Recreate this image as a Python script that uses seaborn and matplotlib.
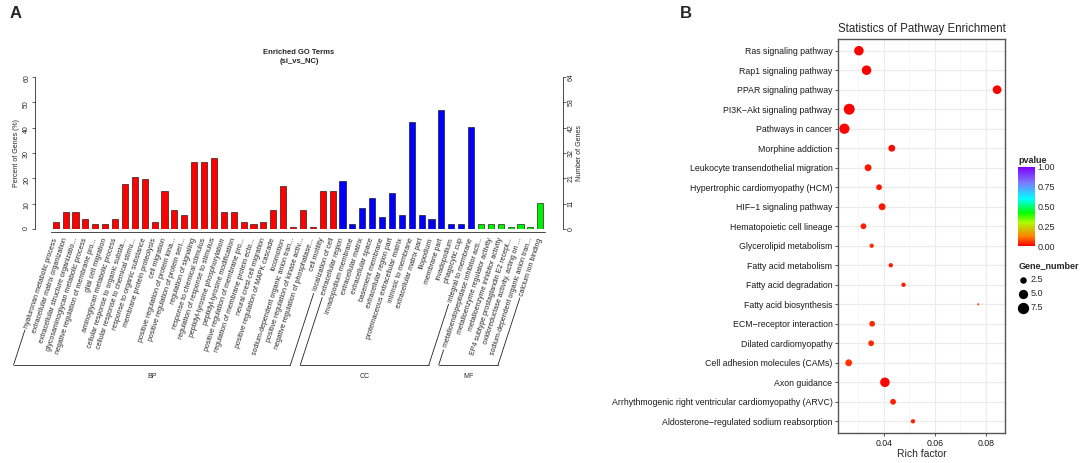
import numpy as np
import pandas as pd
import matplotlib
matplotlib.use("Agg")
import matplotlib.pyplot as plt
from matplotlib.colors import LinearSegmentedColormap, Normalize
from matplotlib.lines import Line2D
import seaborn as sns

# ---- panel A: GO terms ----
bp_terms = ["hyaluronan metabolic process", "extracellular matrix organization",
            "extracellular structure organizatio...", "glycosaminoglycan metabolic process",
            "negative regulation of membrane pro...", "glial cell migration",
            "aminoglycan metabolic process", "cellular response to organic substa...",
            "cellular response to chemical stimu...", "response to organic substance",
            "membrane protein proteolysis", "cell migration",
            "positive regulation of protein kina...", "positive regulation of protein seri...",
            "regulation of signaling", "response to chemical stimulus",
            "regulation of response to stimulus", "peptidyl-tyrosine phosphorylation",
            "peptidyl-tyrosine modification", "positive regulation of membrane pro...",
            "regulation of membrane protein ecto...", "neural crest cell migration",
            "positive regulation of MAPK cascade", "locomotion",
            "sodium-dependent organic anion tran...", "positive regulation of kinase activ...",
            "negative regulation of phosphatase...", "cell motility", "localization of cell"]
bp_pct = [2.8, 6.6, 6.6, 3.8, 1.9, 1.9, 3.8, 17.8, 20.6, 19.7, 2.8, 15.0, 7.5, 5.6, 26.3,
          26.3, 28.1, 6.6, 6.6, 2.8, 1.9, 2.8, 7.5, 16.9, 0.9, 7.5, 0.9, 15.0, 15.0]

cc_terms = ["extracellular region", "invadopodium membrane", "extracellular matrix",
            "extracellular space", "basement membrane", "extracellular region part",
            "proteinaceous extracellular matrix", "intrinsic to membrane",
            "extracellular matrix part", "filopodium", "membrane part", "invadopodium",
            "phagocytic cup", "integral to membrane"]
cc_pct = [18.8, 1.9, 8.4, 12.2, 4.7, 14.1, 5.6, 42.2, 5.6, 3.8, 46.9, 1.9, 1.9, 40.3]

mf_terms = ["metalloendopeptidase inhibitor acti...", "metalloenzyme regulator activity",
            "metalloenzyme inhibitor activity", "EP4 subtype prostaglandin E2 recept...",
            "oxidoreductase activity, acting on ...", "sodium-dependent organic anion tran...",
            "calcium ion binding"]
mf_pct = [1.9, 1.9, 1.9, 0.9, 1.9, 0.9, 10.3]

gene_ticks = ["0", "11", "21", "32", "42", "53", "64"]

# ---- panel B: KEGG ----
pathways = ["Ras signaling pathway", "Rap1 signaling pathway", "PPAR signaling pathway",
            "PI3K\u2212Akt signaling pathway", "Pathways in cancer", "Morphine addiction",
            "Leukocyte transendothelial migration", "Hypertrophic cardiomyopathy (HCM)",
            "HIF\u22121 signaling pathway", "Hematopoietic cell lineage",
            "Glycerolipid metabolism", "Fatty acid metabolism", "Fatty acid degradation",
            "Fatty acid biosynthesis", "ECM\u2212receptor interaction",
            "Dilated cardiomyopathy", "Cell adhesion molecules (CAMs)", "Axon guidance",
            "Arrhythmogenic right ventricular cardiomyopathy (ARVC)",
            "Aldosterone\u2212regulated sodium reabsorption"]
rich_factor = [0.0302, 0.0332, 0.0844, 0.0264, 0.0245, 0.0431, 0.0338, 0.0381, 0.0393,
               0.0320, 0.0352, 0.0427, 0.0477, 0.0770, 0.0354, 0.0350, 0.0262, 0.0404,
               0.0436, 0.0514]
gene_number = [7, 7, 6, 9, 8, 4, 4, 3, 4, 3, 2, 2, 2, 1, 3, 3, 4, 7, 3, 2]
pvalue = [0.002, 0.001, 0.001, 0.003, 0.006, 0.01, 0.02, 0.02, 0.02, 0.03,
          0.045, 0.03, 0.025, 0.06, 0.04, 0.04, 0.05, 0.005, 0.03, 0.035]

W, H = 1084, 463
sns.set_theme(style="white")
plt.rcParams["font.family"] = ["Liberation Sans", "DejaVu Sans"]

fig = plt.figure(figsize=(W / 100, H / 100), dpi=100)

terms = bp_terms + cc_terms + mf_terms
go = pd.DataFrame({
    "idx": range(len(terms)),
    "pct": bp_pct + cc_pct + mf_pct,
    "ont": ["BP"] * len(bp_terms) + ["CC"] * len(cc_terms) + ["MF"] * len(mf_terms),
})

axA = fig.add_axes([35 / W, 1 - 229 / H, (563 - 35) / W, (229 - 77) / H])
sns.barplot(data=go, x="idx", y="pct", hue="ont", dodge=False, width=0.62,
            palette={"BP": "#ff0000", "CC": "#0000ff", "MF": "#00ee00"}, saturation=1,
            edgecolor="black", linewidth=0.4, errorbar=None, legend=False, ax=axA)
axR = axA.twinx()

axA.set_xlim(-2.1, len(terms) - 1 + 2.3)
axA.set_ylim(0, 60)
axA.set_xlabel("")
axA.set_ylabel("Percent of Genes (%)", fontsize=5, labelpad=2)
axA.set_yticks(range(0, 61, 10))
axA.tick_params(axis="y", labelsize=5, labelrotation=90, length=2, width=0.5, pad=1.5)
axA.set_xticks(range(len(terms)))
axA.set_xticklabels(terms)
axA.tick_params(axis="x", length=2, width=0.5, pad=2.5, labelrotation=72, labelsize=5)
for s in ["top", "right"]:
    axA.spines[s].set_visible(False)
axA.spines["left"].set_bounds(0, 60)
axA.spines["bottom"].set_bounds(-0.5, len(terms) - 0.5)
axA.spines["bottom"].set_position(("outward", 2))
for s in ["left", "bottom"]:
    axA.spines[s].set_linewidth(0.5)
    axA.spines[s].set_color("black")

axR.set_ylim(0, 60)
axR.set_yticks(range(0, 61, 10))
axR.set_yticklabels(gene_ticks, rotation=90, va="center", fontsize=5)
axR.tick_params(axis="y", length=2, width=0.5, pad=1.5)
axR.set_ylabel("Number of Genes", fontsize=5, labelpad=1)
for s in ["top", "left", "bottom"]:
    axR.spines[s].set_visible(False)
axR.spines["right"].set_bounds(0, 60)
axR.spines["right"].set_linewidth(0.5)
axR.spines["right"].set_color("black")

fig.text((35 + 563) / 2 / W, 1 - 57 / H, "Enriched GO Terms\n(si_vs_NC)", ha="center",
         va="center", fontsize=5.5, fontweight="bold", linespacing=1.4)

# ---- panel B ----
kegg = pd.DataFrame({"pathway": pathways, "rich": rich_factor,
                     "genes": gene_number, "p": pvalue})
pv_cmap = LinearSegmentedColormap.from_list(
    "pv", [(0, "#ff0000"), (0.12, "#ff8000"), (0.3, "#aaff00"), (0.42, "#00ff00"),
           (0.6, "#00ffff"), (0.8, "#7b7bff"), (1, "#7f00ff")])
smin, smax = 2.2, 62
axB = fig.add_axes([838 / W, 1 - 433 / H, (1005 - 838) / W, (433 - 39) / H])
sns.scatterplot(data=kegg, x="rich", y="pathway", hue="p", hue_norm=(0, 1),
                palette=pv_cmap, size="genes", sizes=(smin, smax), size_norm=(1, 9),
                edgecolor="none", legend=False, ax=axB, zorder=3)
axB.set_xlim(0.022, 0.0875)
axB.set_ylim(len(pathways) - 0.4, -0.6)
axB.set_xticks([0.04, 0.06, 0.08])
axB.set_xticklabels(["0.04", "0.06", "0.08"])
axB.set_xticks([0.03, 0.05, 0.07], minor=True)
axB.grid(True, which="major", color="#ebebeb", linewidth=0.8)
axB.grid(True, which="minor", axis="x", color="#f4f4f4", linewidth=0.5)
axB.set_axisbelow(True)
axB.tick_params(axis="both", which="major", length=2.5, width=0.6, color="#333333",
                labelsize=6.3, pad=1.5, bottom=True, left=True, labelcolor="#1a1a1a")
axB.tick_params(axis="x", which="minor", length=0)
for s in axB.spines.values():
    s.set_color("#555555")
    s.set_linewidth(1.0)
axB.set_xlabel("Rich factor", fontsize=7.5, labelpad=1)
axB.set_ylabel("")
axB.set_title("Statistics of Pathway Enrichment", fontsize=8.3, pad=5)

# colorbar
cax = fig.add_axes([1018 / W, 1 - 246 / H, 17 / W, 79 / H])
cb = fig.colorbar(plt.cm.ScalarMappable(norm=Normalize(0, 1), cmap=pv_cmap), cax=cax)
cb.outline.set_visible(False)
cb.set_ticks([0, 0.25, 0.5, 0.75, 1.0])
cb.set_ticklabels(["0.00", "0.25", "0.50", "0.75", "1.00"])
cax.tick_params(length=3, width=0.5, color="white", direction="in", labelsize=6.5, pad=2)
fig.text(1018 / W, 1 - 161 / H, "pvalue", fontsize=6.5, fontweight="bold",
         ha="left", va="center")

# size legend
handles = [axB.scatter([], [], s=smin + (v - 1) / 8 * (smax - smin), color="black")
           for v in [2.5, 5.0, 7.5]]
leg = fig.legend(handles, ["2.5", "5.0", "7.5"], title="Gene_number", loc="upper left",
                 bbox_to_anchor=(1012 / W, 1 - 255 / H), frameon=False, fontsize=6.5,
                 title_fontsize=6.5, labelspacing=0.55, handlelength=1.0,
                 handletextpad=0.4, borderpad=0.2, alignment="left")
leg.get_title().set_fontweight("bold")

fig.text(10 / W, 1 - 14 / H, "A", fontsize=12, fontweight="bold", va="center")
fig.text(680 / W, 1 - 14 / H, "B", fontsize=12, fontweight="bold", va="center")

# rotated term labels: right end anchored at the tick
for lab in axA.get_xticklabels():
    lab.set_rotation(72)
    lab.set_fontsize(5)
    lab.set_ha("right")
    lab.set_va("center")
    lab.set_rotation_mode("anchor")

# brackets under GO term labels
fig.canvas.draw()
rend = fig.canvas.get_renderer()
labs = axA.get_xticklabels()
cot = 1 / np.tan(np.radians(72))
yb = H - 365
groups = [("BP", 0, len(bp_terms) - 1),
          ("CC", len(bp_terms), len(bp_terms) + len(cc_terms) - 1),
          ("MF", len(bp_terms) + len(cc_terms), len(terms) - 1)]
for name, i0, i1 in groups:
    xs = []
    for i in (i0, i1):
        bb = labs[i].get_window_extent(rend)
        x0, y0 = bb.x0 + 1.5, bb.y0 - 1.5
        x1 = x0 - (y0 - yb) * cot
        fig.add_artist(Line2D([x0 / W, x1 / W], [y0 / H, yb / H], color="#222222",
                              linewidth=0.6, transform=fig.transFigure))
        xs.append(x1)
    fig.add_artist(Line2D([xs[0] / W, xs[1] / W], [yb / H, yb / H], color="#222222",
                          linewidth=0.6, transform=fig.transFigure))
    fig.text((xs[0] + xs[1]) / 2 / W, (yb - 11) / H, name, fontsize=5, ha="center",
             va="center")

fig.savefig("out.png", dpi=100)
